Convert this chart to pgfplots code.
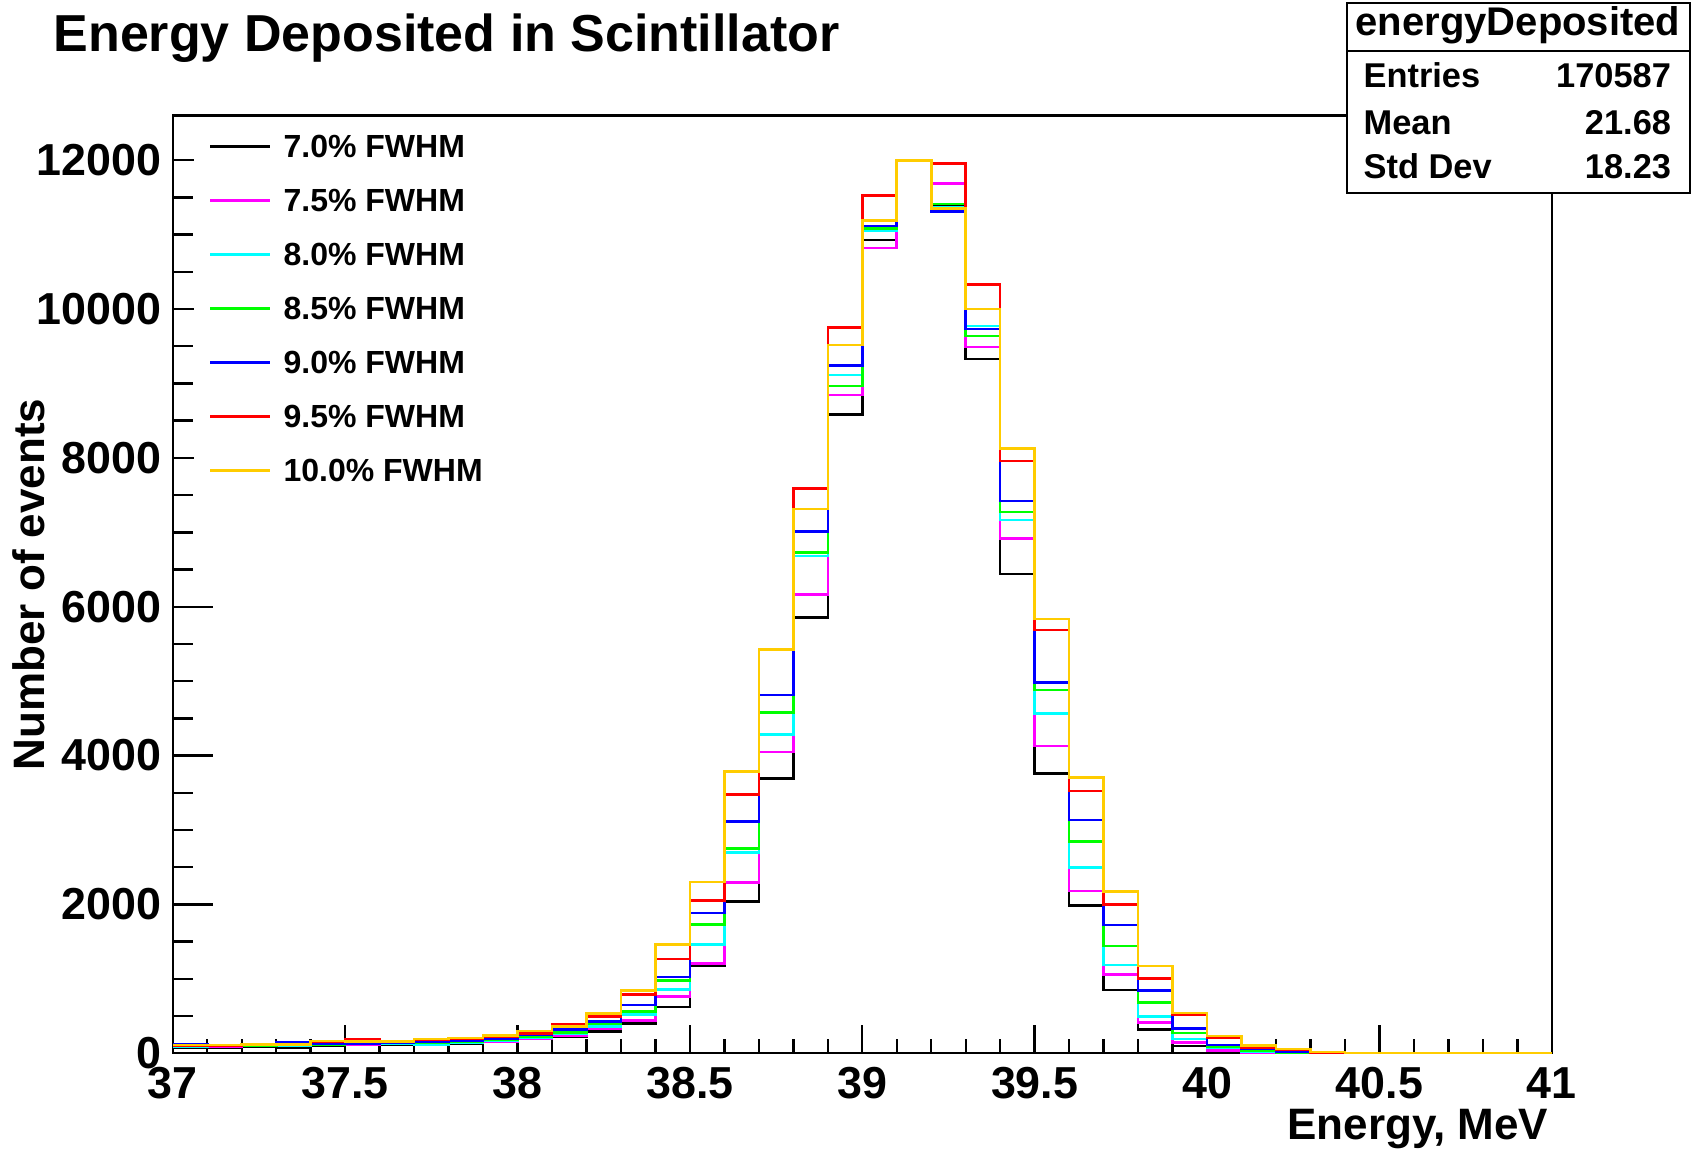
\documentclass[border=0pt]{standalone}
\usepackage{fontspec}
\setmainfont{Liberation Sans}
\usepackage{pgfplots}
\usepackage{pgfplotstable}
\pgfplotsset{compat=1.18}

% ROOT palette
\definecolor{rmag}{RGB}{255,0,255}
\definecolor{rcyan}{RGB}{0,255,255}
\definecolor{rgreen}{RGB}{0,255,0}
\definecolor{rblue}{RGB}{0,0,255}
\definecolor{rred}{RGB}{255,0,0}
\definecolor{rorange}{RGB}{255,204,0}

% bin left edge, one column per resolution
\pgfplotstableread{
E     k      m      c      g      b      r      y
37.0  70     85     90     95     120    105    108
37.1  80     90     95     100    105    100    112
37.2  85     100    100    105    110    122    115
37.3  80     105    105    110    140    115    120
37.4  100    110    110    115    125    155    165
37.5  110    120    125    130    130    185    160
37.6  120    125    125    135    140    165    160
37.7  130    135    120    145    150    180    190
37.8  125    140    145    155    170    195    207
37.9  160    150    170    180    195    216    234
38.0  194    200    207    225    243    261    301
38.1  216    234    260    275    315    391    360
38.2  289    324    356    392    423    490    536
38.3  402    437    520    558    648    791    845
38.4  621    759    853    974    1024   1266   1458
38.5  1172   1203   1458   1732   1884   2049   2300
38.6  2036   2291   2699   2753   3110   3478   3782
38.7  3693   4047   4284   4580   4813   5420   5427
38.8  5852   6165   6680   6730   7007   7590   7312
38.9  8584   8843   9116   8964   9242   9752   9515
39.0  10926  10823  11051  11083  11118  11530  11194
39.1  12000  12000  12000  12000  12000  12000  12000
39.2  11400  11688  11373  11410  11315  11956  11351
39.3  9327   9492   9770   9640   9734   10331  9999
39.4  6442   6913   7164   7275   7423   7957   8127
39.5  3760   4127   4567   4880   4983   5686   5834
39.6  1982   2179   2497   2842   3133   3523   3702
39.7  849    1060   1185   1440   1722   2000   2170
39.8  321    410    490    679    840    1006   1172
39.9  99     140    193    271    330    511    542
40.0  20     34     79     90     110    213    231
40.1  8      12     15     31     58     79     106
40.2  3      5      8      10     22     45     58
40.3  1      2      3      5      9      12     18
40.4  0      0      1      1      2      3      4
40.5  0      0      0      0      0      0      0
40.6  0      0      0      0      0      0      0
40.7  0      0      0      0      0      0      0
40.8  0      0      0      0      0      0      0
40.9  0      0      0      0      0      0      0
41.0  0      0      0      0      0      0      0
}\hist

\begin{document}
\begin{tikzpicture}
\useasboundingbox (-43.2pt,-23.95pt) rectangle (379.8pt,263.3pt);
\begin{axis}[
    at={(0,0)}, anchor=south west,
    scale only axis,
    width=344.75pt, height=234.4pt,
    xmin=37, xmax=41, ymin=0, ymax=12600,
    xtick={37,37.5,...,41},
    ytick={0,2000,...,12000},
    minor x tick num=4, minor y tick num=3,
    xtick pos=bottom, ytick pos=left,
    tick align=inside,
    axis line style={line width=0.6pt},
    every tick/.style={black, line width=0.6pt},
    major tick length=10pt, minor tick length=5pt,
    every major x tick/.append style={/pgfplots/major tick length=7pt},
    every minor x tick/.append style={/pgfplots/minor tick length=3.5pt},
    scaled y ticks=false,
    /pgf/number format/1000 sep={},
    /pgf/number format/assume math mode=true,
    tick label style={font=\bfseries\fontsize{11.2}{13}\selectfont, inner sep=0pt},
    yticklabel shift=2.7pt,
    xticklabel shift=3.3pt,
    xlabel={Energy, MeV},
    ylabel={Number of events},
    every axis x label/.style={at={(axis description cs:1,0)}, anchor=base east,
        yshift=-21.45pt, xshift=-0.7pt, inner sep=0pt, font=\bfseries\fontsize{11}{13}\selectfont},
    every axis y label/.style={at={(axis description cs:-0.1041,0.5)}, rotate=90,
        anchor=center, inner sep=0pt, font=\bfseries\fontsize{11}{13}\selectfont},
    legend style={at={(0.0148,0.9983)}, anchor=north west, draw=none, fill=white,
        inner xsep=3.75pt, inner ysep=4pt, font=\bfseries\fontsize{8}{9}\selectfont,
        row sep=7.19pt, column sep=3pt,
        nodes={inner sep=0pt, text height=6pt, text depth=0.3pt}},
    legend cell align=left,
    legend image code/.code={\draw[#1] (0pt,0pt) -- (15pt,0pt);},
]
\addplot[const plot, black,   line width=0.65pt] table[x=E, y=k] {\hist};
\addlegendentry{7.0\% FWHM}
\addplot[const plot, rmag,    line width=0.65pt] table[x=E, y=m] {\hist};
\addlegendentry{7.5\% FWHM}
\addplot[const plot, rcyan,   line width=0.65pt] table[x=E, y=c] {\hist};
\addlegendentry{8.0\% FWHM}
\addplot[const plot, rgreen,  line width=0.65pt] table[x=E, y=g] {\hist};
\addlegendentry{8.5\% FWHM}
\addplot[const plot, rblue,   line width=0.65pt] table[x=E, y=b] {\hist};
\addlegendentry{9.0\% FWHM}
\addplot[const plot, rred,    line width=0.65pt] table[x=E, y=r] {\hist};
\addlegendentry{9.5\% FWHM}
\addplot[const plot, rorange, line width=0.65pt] table[x=E, y=y] {\hist};
\addlegendentry{10.0\% FWHM}
\end{axis}

% title
\node[anchor=base west, inner sep=0pt, font=\bfseries\fontsize{13}{15}\selectfont]
    at (-30pt,250.3pt) {Energy Deposited in Scintillator};

% stats box
\draw[line width=0.6pt, fill=white] (293.5pt,215.1pt) rectangle (379.3pt,262.5pt);
\draw[line width=0.6pt] (293.5pt,250.55pt) -- (379.3pt,250.55pt);
\node[anchor=base, inner sep=0pt, font=\bfseries\fontsize{10}{12}\selectfont]
    at (336.3pt,254.3pt) {energyDeposited};
\begin{scope}[every node/.style={inner sep=0pt, font=\bfseries\fontsize{8.6}{10}\selectfont}]
\node[anchor=base west] at (297.5pt,241.4pt) {Entries};
\node[anchor=base east] at (374.75pt,241.4pt) {170587};
\node[anchor=base west] at (297.5pt,229.6pt) {Mean};
\node[anchor=base east] at (374.75pt,229.6pt) {21.68};
\node[anchor=base west] at (297.5pt,218.7pt) {Std Dev};
\node[anchor=base east] at (374.75pt,218.7pt) {18.23};
\end{scope}
\end{tikzpicture}
\end{document}
